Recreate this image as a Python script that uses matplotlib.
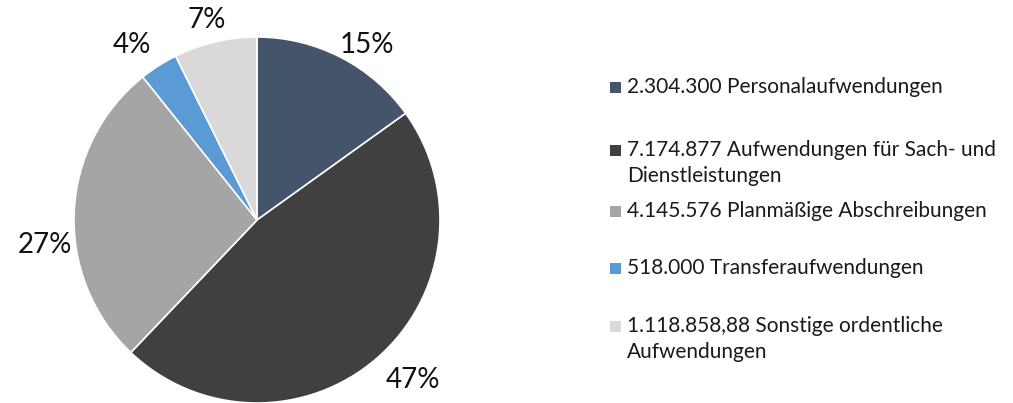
import matplotlib.pyplot as plt
from matplotlib.patches import Rectangle

# Aufwendungen nach Art (Euro)
amounts = [2304300, 7174877, 4145576, 518000, 1118858.88]
names = [
    "Personalaufwendungen",
    "Aufwendungen für Sach- und\nDienstleistungen",
    "Planmäßige Abschreibungen",
    "Transferaufwendungen",
    "Sonstige ordentliche\nAufwendungen",
]
colors = ["#44546A", "#404040", "#A5A5A5", "#5B9BD5", "#D9D9D9"]

# where each percentage label sits (pie radius = 1)
label_pos = [(0.60, 0.956), (0.853, -0.874), (-1.158, -0.137),
             (-0.683, 0.956), (-0.273, 1.093)]

plt.rcParams["font.family"] = ["Lato", "DejaVu Sans"]

W, H = 1013, 403


def de_number(v):
    """Format a number German style: 1.118.858,88"""
    if float(v).is_integer():
        s = f"{int(v):,}".replace(",", ".")
    else:
        s = f"{v:,.2f}".replace(",", "X").replace(".", ",").replace("X", ".")
    return s


def whole_percents(vals):
    """Round shares to whole percent so they add up to 100 (largest remainder)."""
    total = sum(vals)
    raw = [v / total * 100 for v in vals]
    base = [int(x) for x in raw]
    missing = 100 - sum(base)
    order = sorted(range(len(raw)), key=lambda i: raw[i] - base[i], reverse=True)
    for i in order[:missing]:
        base[i] += 1
    return base


fig = plt.figure(figsize=(W / 100, H / 100), dpi=100)

# pie axes: center at (257, 220) px, radius 183 px
cx, cy, r = 257, 220, 183
ax = fig.add_axes([(cx - r) / W, (H - cy - r) / H, 2 * r / W, 2 * r / H])
wedges, _ = ax.pie(
    amounts,
    colors=colors,
    startangle=90,
    counterclock=False,
    radius=1.0,
    wedgeprops=dict(edgecolor="white", linewidth=1.2),
)
for pct, (lx, ly) in zip(whole_percents(amounts), label_pos):
    ax.text(lx, ly, f"{pct}%", fontsize=20, color="#111111",
            ha="center", va="center", clip_on=False)
ax.set_xlim(-1, 1)
ax.set_ylim(-1, 1)
ax.set_aspect("equal")
ax.axis("off")

# legend drawn by hand to keep Excel-like spacing
entry_y = [87, 150, 211, 268, 326]
line_step = 26
for amt, name, col, y in zip(amounts, names, colors, entry_y):
    lines = (de_number(amt) + " " + name).split("\n")
    for i, line in enumerate(lines):
        fig.text(627 / W, 1 - (y + i * line_step) / H, line,
                 fontsize=15, va="center", ha="left", color="#1a1a1a")
    fig.patches.append(Rectangle((610 / W, 1 - (y + 6) / H), 11 / W, 11 / H,
                                 transform=fig.transFigure, facecolor=col,
                                 edgecolor="none"))

fig.savefig("out.png", dpi=100)
